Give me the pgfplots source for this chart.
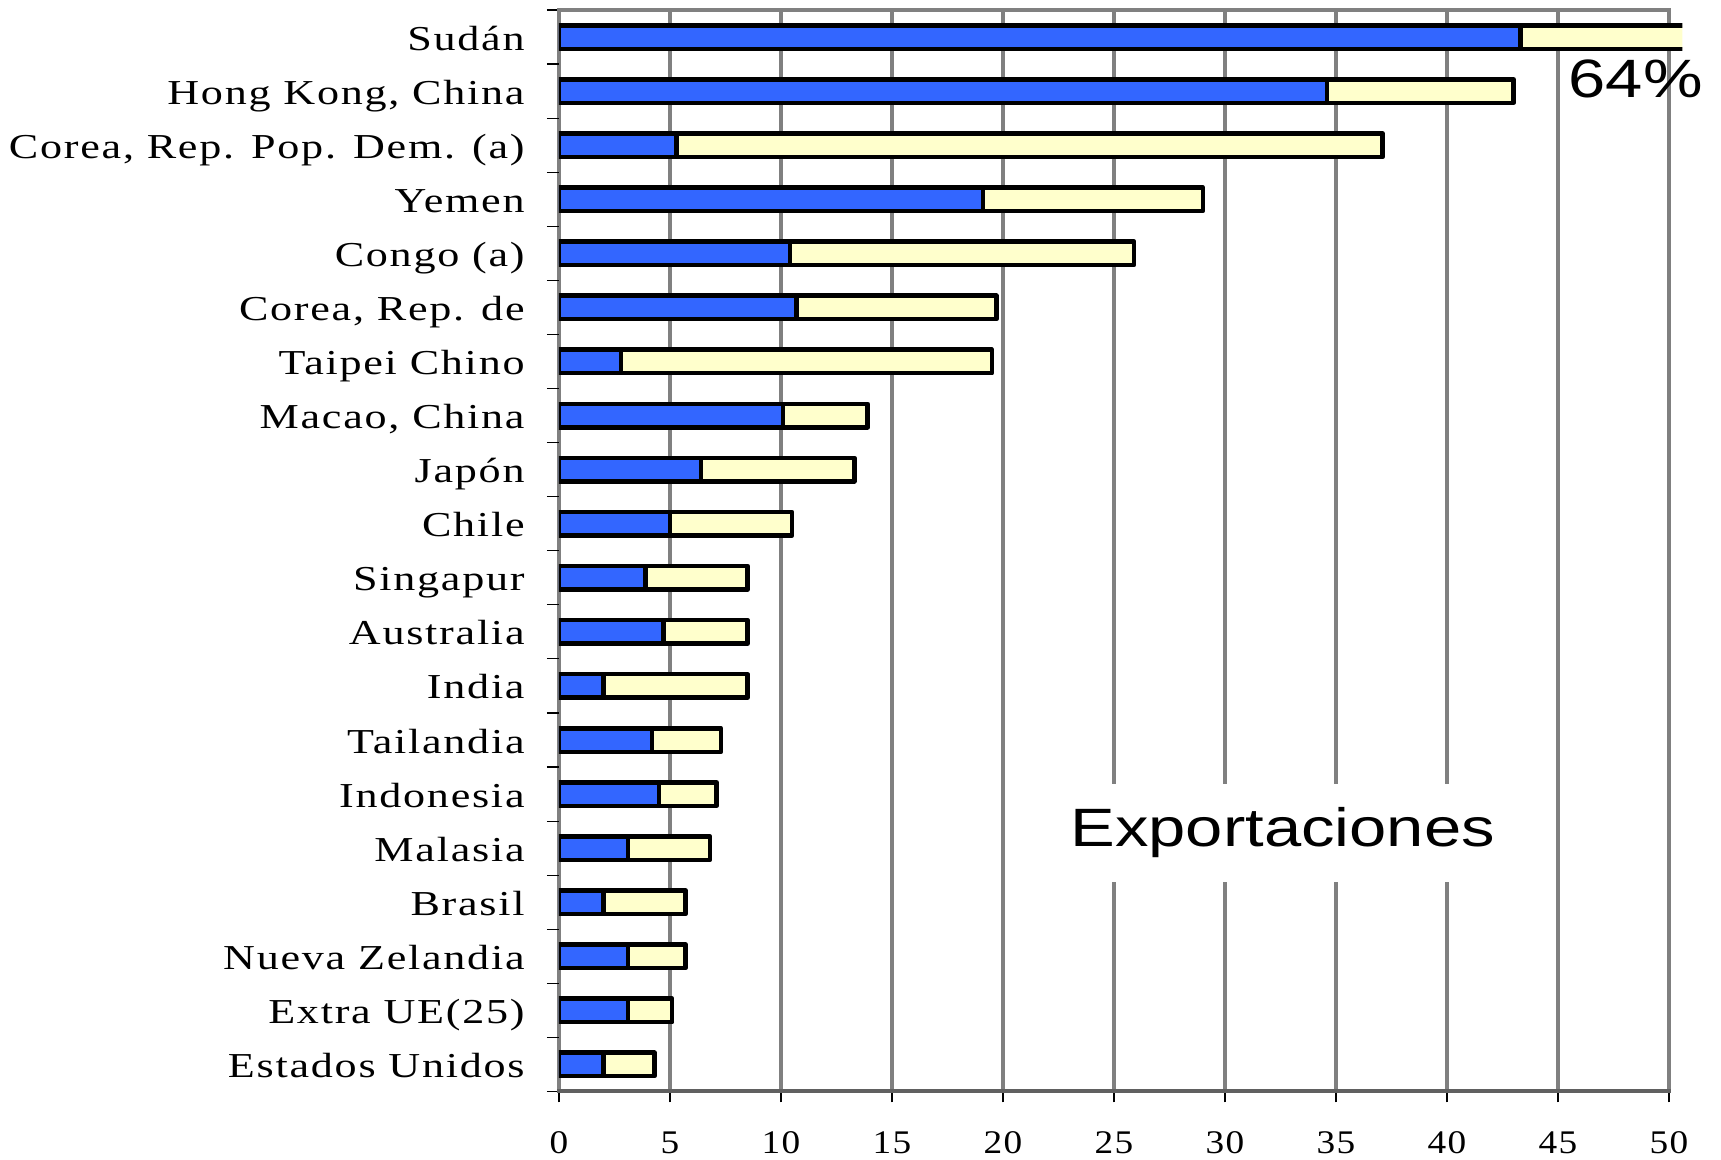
\documentclass[border=0pt]{standalone}
\usepackage{pgfplots}
\usepackage{pgfplotstable}
\pgfplotsset{compat=1.18}
\usepackage{fontspec}
\setmainfont{Liberation Serif}
\newfontfamily\labfont[FakeStretch=1.26,LetterSpace=5]{Liberation Serif}
\newfontfamily\tickfnt[FakeStretch=1.13,LetterSpace=4]{Liberation Serif}
\newfontfamily\annfont[FakeStretch=1.24]{Liberation Sans}
\definecolor{barblue}{HTML}{3366FF}
\definecolor{baryel}{HTML}{FFFFCC}
\definecolor{gridgray}{HTML}{808080}

\pgfplotstableread{
y blue yellow
0  2.0  2.3
1  3.1  2.0
2  3.1  2.6
3  2.0  3.7
4  3.1  3.7
5  4.5  2.6
6  4.2  3.1
7  2.0  6.5
8  4.7  3.8
9  3.9  4.6
10 5.0  5.5
11 6.4  6.9
12 10.1 3.8
13 2.8  16.7
14 10.7 9.0
15 10.4 15.5
16 19.1 9.9
17 5.3  31.8
18 34.6 8.4
19 43.3 20.7
}\datatable

\begin{document}
\begin{tikzpicture}
\useasboundingbox (0,0) rectangle (860.5pt,580pt);
\begin{axis}[
  at={(279.5pt,34.25pt)}, anchor=south west,
  scale only axis, width=561.66pt, height=540.75pt,
  xbar stacked, bar width=11.75pt,
  xmin=0, xmax=50.6, ymin=-0.5, ymax=19.5,
  clip mode=individual,
  axis line style={draw=none},
  xtick={0,5,...,50},
  xticklabels={0,5,10,15,20,25,30,35,40,45,50},
  ytick={0,...,19},
  yticklabels={Estados Unidos,Extra UE(25),Nueva Zelandia,Brasil,Malasia,Indonesia,Tailandia,India,Australia,Singapur,Chile,Japón,{Macao, China},Taipei Chino,{Corea, Rep. de},Congo (a),Yemen,{Corea, Rep. Pop. Dem. (a)},{Hong Kong, China},Sudán},
  minor ytick={-0.5,0.5,...,19.5},
  xtick pos=bottom, ytick pos=left,
  tick align=outside,
  major tick length=5.5pt, minor tick length=6pt,
  major y tick style={draw=none},
  minor y tick style={black, line width=0.6pt},
  major x tick style={black, line width=0.6pt},
  xmajorgrids, ymajorgrids=false,
  major grid style={gridgray, line width=2pt},
  xticklabel style={font=\tickfnt\fontsize{16.5}{18}\selectfont, inner sep=0pt, yshift=-14.5pt},
  yticklabel style={font=\labfont\fontsize{17.5}{20}\selectfont, inner sep=0pt, anchor=base east, xshift=-11.5pt, yshift=-6.5pt},
]
\addplot[fill=barblue, draw=black, line width=2.25pt, line join=round] table[x=blue,y=y]{\datatable};
\addplot[fill=baryel, draw=black, line width=2.25pt, line join=round] table[x=yellow,y=y]{\datatable};
\node[fill=white, inner sep=0pt, minimum width=270pt, minimum height=49pt, font=\annfont\fontsize{27}{30}\selectfont] at (axis cs:32.6,4.28) {Exportaciones};
\node[anchor=base, inner sep=0pt, font=\annfont\fontsize{27}{30}\selectfont] at (axis cs:48.5,17.89) {64\%};
\draw[gridgray, line width=2pt, line cap=rect] (axis cs:0,19.5) -- (axis cs:50,19.5);
\draw[gridgray!75!black, line width=2pt, line cap=rect] (axis cs:0,-0.5) -- (axis cs:50,-0.5);
\end{axis}
\end{tikzpicture}
\end{document}
